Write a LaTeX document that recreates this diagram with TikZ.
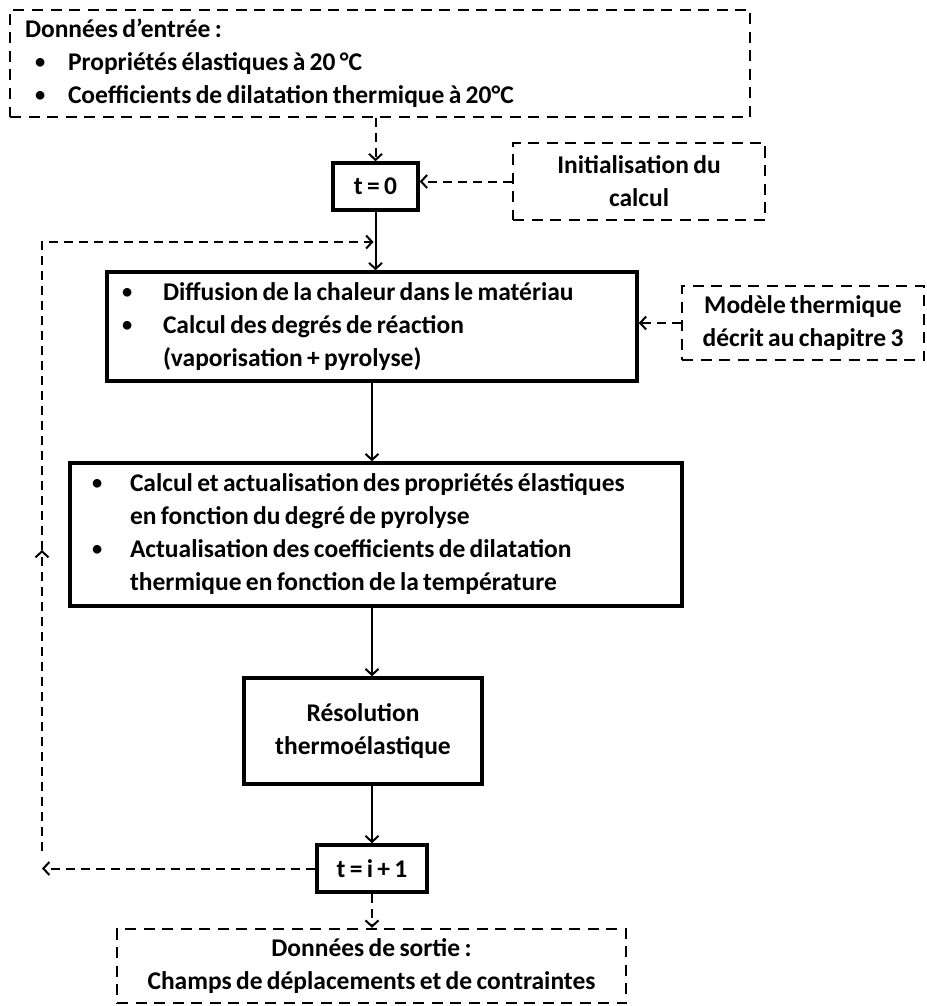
\documentclass[tikz,border=0pt]{standalone}
\usepackage{fontspec}
\setmainfont{Carlito}[WordSpace={0.75,0,0}]
\usetikzlibrary{arrows.meta}
\newcommand{\bul}[1]{\hspace*{#1}\raisebox{0.08em}{\scalebox{0.8}{\textbullet}}}
\newcommand{\leftblock}[2]{\makebox[#1][l]{\begin{tabular}{@{}l@{}}#2\end{tabular}}}
\begin{document}
\begin{tikzpicture}[x=1pt,y=-1pt,
  every node/.style={font=\fontsize{25.5}{33}\selectfont\bfseries},
  solidbox/.style={draw, line width=3.5pt, inner xsep=0pt, inner ysep=0pt, align=center},
  dashbox/.style={draw, line width=2.5pt, dash pattern=on 11pt off 7.5pt, inner xsep=0pt, inner ysep=0pt, align=center},
  flow/.style={line width=2pt, -{Straight Barb[length=6pt,width=13pt,line width=2pt]}},
  dflow/.style={flow, dash pattern=on 9pt off 6pt},
  dline/.style={line width=2pt, dash pattern=on 9pt off 6pt},
]
\useasboundingbox[fill=white] (0,0) rectangle (926,1006);

% boxes
\node[dashbox, inner xsep=15pt, minimum height=107pt] (inp) at (380,63.5)
  {\leftblock{710pt}{Données d’entrée :\\
   \makebox[43pt][l]{\bul{10pt}}Propriétés élastiques à 20 °C\\
   \makebox[43pt][l]{\bul{10pt}}Coefficients de dilatation thermique à 20°C}};

\node[solidbox, minimum width=85pt, minimum height=47pt] (t0) at (375.5,186.5) {t = 0};

\node[dashbox, minimum width=252pt, minimum height=77pt] (init) at (639,181.5)
  {Initialisation du\\calcul};

\node[solidbox, inner xsep=15pt, minimum height=109pt] (diff) at (372,326.5)
  {\leftblock{500pt}{\makebox[41pt][l]{\bul{0pt}}Diffusion de la chaleur dans le matériau\\
   \makebox[41pt][l]{\bul{0pt}}Calcul des degrés de réaction\\
   \hspace*{41pt}(vaporisation + pyrolyse)}};

\node[dashbox, minimum width=242pt, minimum height=74pt] (mod) at (803,323)
  {Modèle thermique\\décrit au chapitre 3};

\node[solidbox, inner xsep=22pt, minimum height=143pt] (calc) at (376,534.5)
  {\leftblock{568pt}{\makebox[38pt][l]{\bul{0pt}}Calcul et actualisation des propriétés élastiques\\
   \hspace*{38pt}en fonction du degré de pyrolyse\\
   \makebox[38pt][l]{\bul{0pt}}Actualisation des coefficients de dilatation\\
   \hspace*{38pt}thermique en fonction de la température}};

\node[solidbox, minimum width=238pt, minimum height=106pt] (res) at (363,731)
  {Résolution\\thermoélastique};

\node[solidbox, minimum width=110pt, minimum height=47pt] (tip) at (372,868.5) {t = i + 1};

\node[dashbox, minimum width=509pt, minimum height=74pt] (out) at (371.5,966)
  {Données de sortie :\\Champs de déplacements et de contraintes};

% feedback coordinates
\coordinate (fbL) at (42,851);
\coordinate (fbMid) at (42,550);
\coordinate (fbTop) at (42,242);
\coordinate (axis) at (372,0);

% connectors
\draw[dflow] (t0.north |- inp.south) -- (t0.north);
\draw[dflow] (init.west) -- (init.west -| t0.east);
\draw[flow] (t0.south) -- (t0.south |- diff.north);
\draw[dflow] (mod.west) -- (mod.west -| diff.east);
\draw[flow] (axis |- diff.south) -- (axis |- calc.north);
\draw[flow] (axis |- calc.south) -- (axis |- res.north);
\draw[flow] (axis |- res.south) -- (tip.north);
\draw[dflow] (tip.south) -- (tip.south |- out.north);
\draw[dflow] (tip.west) -- (tip.west -| fbL);
\draw[dflow] (fbL) -- (fbMid);
\draw[dline, -{Straight Barb[length=6pt,width=13pt,line width=2pt]}, shorten >=2pt] (fbMid) -- (fbTop) -- (fbTop -| t0.south);
\end{tikzpicture}
\end{document}
